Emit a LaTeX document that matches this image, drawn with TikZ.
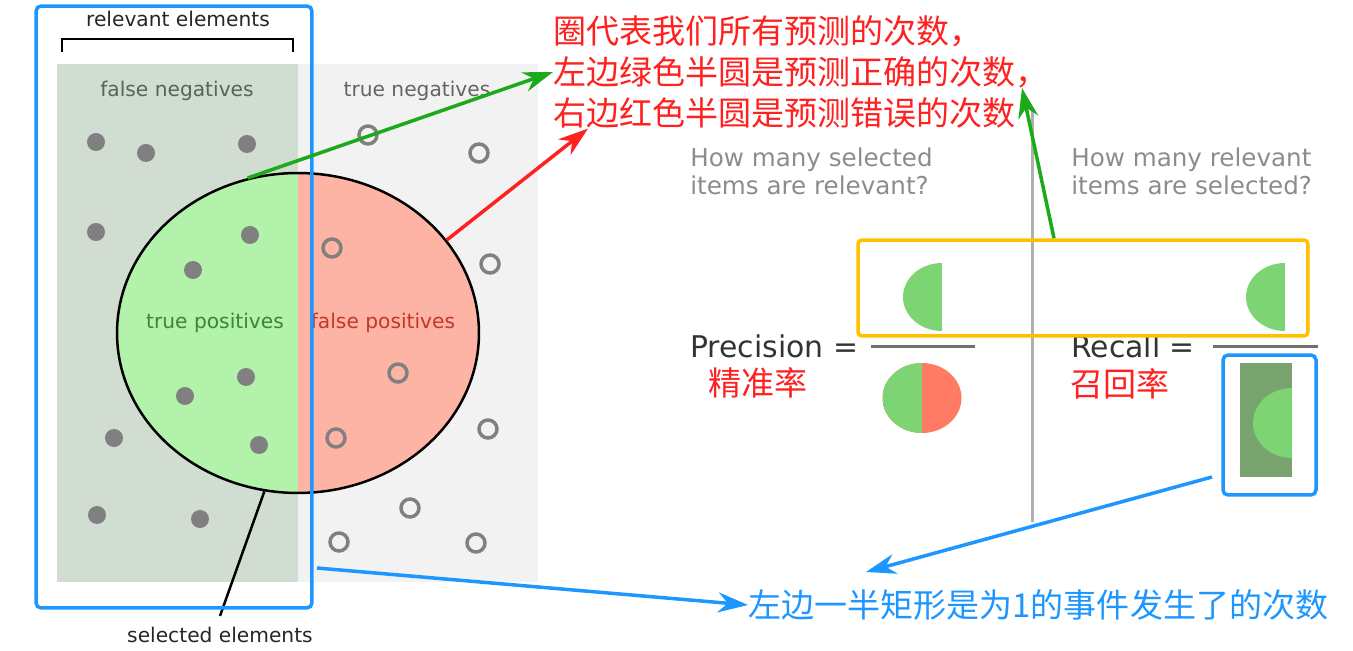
\documentclass[tikz,border=0pt]{standalone}
\usepackage{fontspec}
\setmainfont{DejaVu Sans}
\newfontfamily\cjk{Noto Sans CJK SC}
\usepackage{tikz}
\usetikzlibrary{positioning,arrows.meta,shapes.geometric}

\definecolor{fnbg}{HTML}{D0DDD0}
\definecolor{tnbg}{HTML}{F2F2F2}
\definecolor{tpfill}{HTML}{B2F2AA}
\definecolor{fpfill}{HTML}{FDB4A4}
\definecolor{dotgray}{HTML}{808080}
\definecolor{fntext}{HTML}{526852}
\definecolor{tntext}{HTML}{646464}
\definecolor{tptext}{HTML}{3A853A}
\definecolor{fptext}{HTML}{C3372A}
\definecolor{qgray}{HTML}{8C8C8C}
\definecolor{divgray}{HTML}{B0B0B0}
\definecolor{bargray}{HTML}{707070}
\definecolor{halfgreen}{HTML}{7DD472}
\definecolor{halfred}{HTML}{FF7B63}
\definecolor{rectgreen}{HTML}{79A36E}
\definecolor{markblue}{HTML}{1E96FF}
\definecolor{markgreen}{HTML}{1AAA1A}
\definecolor{markred}{HTML}{FF2020}
\definecolor{markorange}{HTML}{FFC000}

\tikzset{
  lbl/.style={font=\fontsize{11.5}{13}\selectfont},
  qtxt/.style={font=\fontsize{14}{16}\selectfont,text=qgray,align=left,anchor=west,inner sep=0pt},
  ftxt/.style={font=\fontsize{17}{20}\selectfont,text=black!80,anchor=west,inner sep=0pt},
  cjklab/.style={font=\cjk\fontsize{18.8}{23.3}\selectfont},
  dot/.style={circle,fill=dotgray,inner sep=0pt,minimum size=0.36cm},
  ring/.style={circle,draw=dotgray,line width=0.07cm,inner sep=0pt,minimum size=0.36cm},
  half/.style={ellipse,inner sep=0pt,minimum width=1.56cm,minimum height=1.36cm,
    path picture={\fill[halfgreen] (path picture bounding box.south west) rectangle (path picture bounding box.north);}},
  bluebox/.style={draw=markblue,line width=0.07cm,rounded corners=0.1cm,inner sep=0pt},
  barline/.style={line width=0.06cm,bargray},
  note/.style={line width=0.07cm}
}

\begin{document}
\begin{tikzpicture}[x=0.02cm,y=-0.02cm,>={Stealth[length=0.6cm,width=0.4cm]}]
	\useasboundingbox (0,0) rectangle (1353,651);
	
	% Background
	\fill[fnbg] (57,64) rectangle (298,582);
	\fill[tnbg] (298,64) rectangle (538,582);
	
	% Relevant bracket
	\draw[line width=0.05cm] (62,52) -- (62,39) -- (293,39) -- (293,52);
	\node[lbl,text=black!85] (relev) at (178,19) {relevant elements};
	
	\node[lbl,text=fntext] (fnlab) at (177,91) {false negatives};
	\node[lbl,text=tntext] (tnlab) at (417,91) {true negatives};
	
	% Selected ellipse
	\node[ellipse,draw,line width=0.05cm,fill=fpfill,inner sep=0pt,
		minimum width=7.24cm,minimum height=6.4cm,
		path picture={\fill[tpfill] (path picture bounding box.south west) rectangle (path picture bounding box.north);}]
		(sel) at (298,333) {};
	
	\node[lbl,text=tptext] (tplab) at (215,323) {true positives};
	\node[lbl,text=fptext] (fplab) at (383,323) {false positives};
	
	% Relevant items
	\foreach \x/\y [count=\i] in {96/142,146/153,247/144,96/232,250/235,193/270,
		246/377,185/396,114/438,259/445,97/515,200/519}
		\node[dot] (rel\i) at (\x,\y) {};
	
	% Other items
	\foreach \x/\y [count=\i] in {368/135,479/153,332/248,490/264,398/373,
		336/438,488/429,410/508,339/542,476/543}
		\node[ring] (oth\i) at (\x,\y) {};
	
	\node[lbl,text=black!85] (sellab) at (220,635) {selected elements};
	\draw[line width=0.05cm] (sel.258.6) -- ([yshift=0.1cm]sellab.north);
	
	\node[bluebox,minimum width=5.52cm,minimum height=12.04cm] (relbox) at (174,307) {};
	
	% Right panel
	\draw[line width=0.06cm,divgray] (1032,110) -- (1032,522);
	
	\node[qtxt] (qprec) at (690,171) {How many selected\\items are relevant?};
	\node[qtxt] (qrec) at (1071,171) {How many relevant\\items are selected?};
	
	\node[ftxt] (prec) at (690,346) {Precision =};
	\node[ftxt] (rec) at (1071,346) {Recall =};
	\draw[barline] (871,347) -- (975,347);
	\draw[barline] (1213,347) -- (1318,347);
	
	\node[half] (phalf) at (942,297) {};
	\node[half] (rhalf) at (1285,297) {};
	\node[half,fill=halfred,minimum height=1.4cm,minimum width=1.58cm] (pie) at (922,398) {};
	
	\fill[rectgreen] (1240,363) rectangle (1292,477);
	\node[half,minimum height=1.4cm] (rrect) at (1292,423) {};
	
	\node[draw=markorange,line width=0.07cm,rounded corners=0.08cm,inner sep=0pt,
		minimum width=9cm,minimum height=1.92cm] (numbox) at (1083,288) {};
	\node[bluebox,minimum width=1.86cm,minimum height=2.8cm] (denbox) at (1269.5,425) {};
	
	\node[cjklab,text=markred] (precz) at (758,383) {精准率};
	\node[cjklab,text=markred] (recz) at (1120,384) {召回率};
	
	% Notes
	\node[cjklab,text=markred,anchor=west,align=left,inner sep=0pt] (note) at (553,72)
		{圈代表我们所有预测的次数，\\左边绿色半圆是预测正确的次数，\\右边红色半圆是预测错误的次数};
	\node[cjklab,text=markblue,anchor=west,inner sep=0pt] (bnote) at (748,605)
		{左边一半矩形是为1的事件发生了的次数};
	
	\coordinate (ctip) at (1022,88);
	\coordinate (bstart) at (317,568);
	\coordinate (rstart) at (1212,477);
	\coordinate (btip) at (866,572);
	
	\draw[->,note,markgreen] (sel.108.6) -- (note.west);
	\draw[->,note,markred] (sel.32) -- ([xshift=0.7cm]note.south west);
	\draw[->,note,markgreen] ([xshift=-0.58cm]numbox.north) -- (ctip);
	\draw[->,note,markblue] (bstart) -- (bnote.west);
	\draw[->,note,markblue] (rstart) -- (btip);
	
\end{tikzpicture}
\end{document}
